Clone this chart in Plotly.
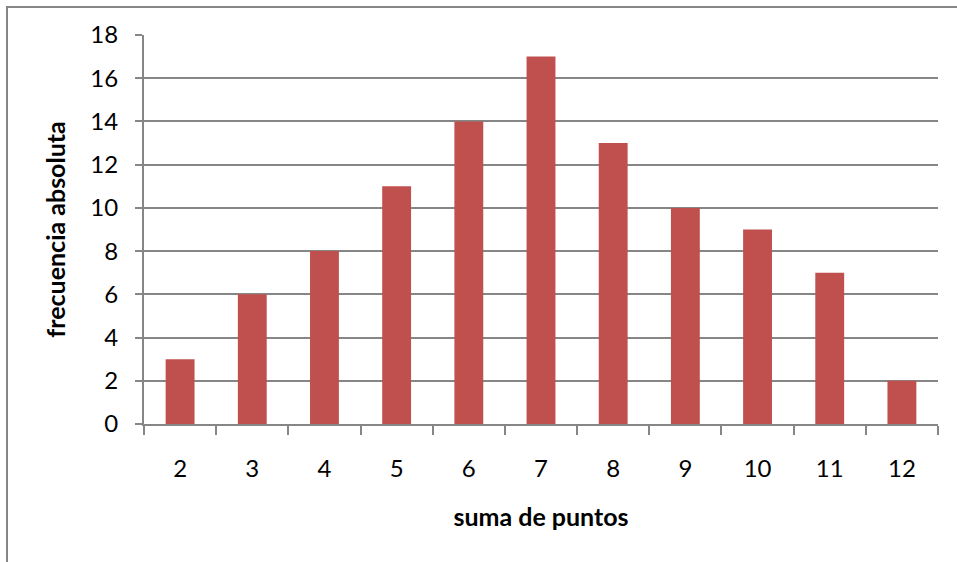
import plotly.graph_objects as go

# Frequency of each dice-sum value
sumas = ["2", "3", "4", "5", "6", "7", "8", "9", "10", "11", "12"]
frecuencias = [3, 6, 8, 11, 14, 17, 13, 10, 9, 7, 2]
y_ticks = [0, 2, 4, 6, 8, 10, 12, 14, 16, 18]

W, H = 957, 562
L, R, T, B = 144, 19, 35, 138
pw, ph = W - L - R, H - T - B

def px_x(p):
    return (p - L) / pw

def px_y(p):
    return (H - B - p) / ph

grey = "#868686"
font = "Lato, 'Open Sans', sans-serif"

fig = go.Figure(
    go.Bar(
        x=sumas,
        y=frecuencias,
        marker=dict(color="#C0504D", line=dict(width=0)),
        width=0.4,
    )
)

fig.update_layout(
    width=W,
    height=H,
    margin=dict(l=L, r=R, t=T, b=B),
    paper_bgcolor="white",
    plot_bgcolor="white",
    showlegend=False,
    font=dict(family=font, size=24, color="black"),
    shapes=[
        dict(
            type="path",
            xref="paper",
            yref="paper",
            path=f"M {px_x(7)} {px_y(570)} L {px_x(7)} {px_y(7)} L {px_x(970)} {px_y(7)}",
            line=dict(color=grey, width=2),
        )
    ],
)

fig.update_xaxes(
    type="category",
    showgrid=False,
    showline=True,
    linecolor=grey,
    linewidth=2,
    ticks="outside",
    tickson="boundaries",
    ticklen=9,
    tickwidth=2,
    tickcolor=grey,
    tickfont=dict(size=24),
    ticklabelstandoff=22,
    title=dict(text="<b>suma de puntos</b>", font=dict(size=25), standoff=28),
)

fig.update_yaxes(
    range=[0, 18],
    tickvals=y_ticks,
    showgrid=True,
    gridcolor=grey,
    gridwidth=2,
    showline=True,
    linecolor=grey,
    linewidth=2,
    ticks="outside",
    ticklen=7,
    tickwidth=2,
    tickcolor=grey,
    tickfont=dict(size=24),
    ticklabelstandoff=12,
    zeroline=False,
    title=dict(text="<b>frecuencia absoluta</b>", font=dict(size=25), standoff=18),
)

fig.write_html("out.html")
